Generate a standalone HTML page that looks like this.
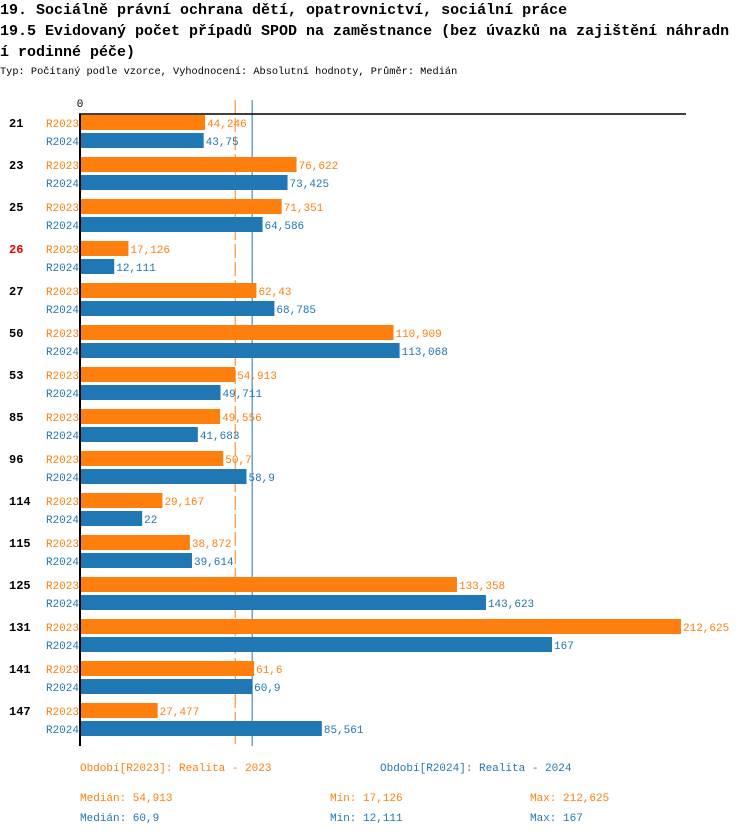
<!DOCTYPE html>
<html><head><meta charset="utf-8"><style>
body{margin:0;background:#fff;width:750px;height:834px;overflow:hidden;font-family:"Liberation Mono","DejaVu Sans Mono",monospace}
.t{position:absolute;white-space:nowrap}
</style></head><body>
<div class="t" style="left:0;top:0;font-size:15px;font-weight:bold;line-height:21px">19. Sociálně právní ochrana dětí, opatrovnictví, sociální práce</div>
<div class="t" style="left:0;top:21px;font-size:15px;font-weight:bold;line-height:21px">19.5 Evidovaný počet případů SPOD na zaměstnance (bez úvazků na zajištění náhradn</div>
<div class="t" style="left:0;top:42px;font-size:15px;font-weight:bold;line-height:21px">í rodinné péče)</div>
<div class="t" style="left:0;top:66px;font-size:10.3px">Typ: Počítaný podle vzorce, Vyhodnocení: Absolutní hodnoty, Průměr: Medián</div>
<svg id="chart" width="750" height="834" style="position:absolute;left:0;top:0" font-family="Liberation Mono, monospace"></svg>
<script>
const categories=["21","23","25","26","27","50","53","85","96","114","115","125","131","141","147"];
const labels2023=["44,246","76,622","71,351","17,126","62,43","110,909","54,913","49,556","50,7","29,167","38,872","133,358","212,625","61,6","27,477"];
const labels2024=["43,75","73,425","64,586","12,111","68,785","113,068","49,711","41,683","58,9","22","39,614","143,623","167","60,9","85,561"];
const values2023=[44.246,76.622,71.351,17.126,62.43,110.909,54.913,49.556,50.7,29.167,38.872,133.358,212.625,61.6,27.477];
const values2024=[43.75,73.425,64.586,12.111,68.785,113.068,49.711,41.683,58.9,22,39.614,143.623,167,60.9,85.561];
const highlighted=["26"];
const median2023=54.913, median2024=60.9;
const O="#ff7f0e",B="#1f77b4";
const svg=document.getElementById('chart');
const NS="http://www.w3.org/2000/svg";
const x=v=>80+v*(601/212.625);
const gy=i=>113+i*42;
function el(tag,a,txt){const e=document.createElementNS(NS,tag);for(const k in a)e.setAttribute(k,a[k]);if(txt!==undefined)e.textContent=txt;svg.appendChild(e);return e;}
let e;
e=el('line',{x1:x(median2023),x2:x(median2023),y1:100,y2:746,stroke:O,'stroke-width':1,'stroke-dasharray':'14,4'});


e=el('line',{x1:x(median2024),x2:x(median2024),y1:100,y2:746,stroke:B,'stroke-width':1});


categories.forEach((c,i)=>{
  const y=gy(i);
  e=el('text',{x:9,y:y+14,'font-size':12,'font-weight':'bold',fill:highlighted.includes(c)?'#e00':'#000'},c);
  
  
  e=el('text',{x:79,y:y+14,'font-size':11,fill:O,'text-anchor':'end'},'R2023');
  
  
  e=el('text',{x:79,y:y+32,'font-size':11,fill:B,'text-anchor':'end'},'R2024');
  
  
  e=el('rect',{x:81,y:y+2,width:x(values2023[i])-81,height:15,fill:O});
  
  
  e=el('rect',{x:81,y:y+20,width:x(values2024[i])-81,height:15,fill:B});
  
  
  e=el('text',{x:x(values2023[i])+2,y:y+14,'font-size':11,fill:O},labels2023[i]);
  
  
  e=el('text',{x:x(values2024[i])+2,y:y+32,'font-size':11,fill:B},labels2024[i]);
  
  
});
e=el('line',{x1:79,x2:686,y1:114,y2:114,stroke:'#000','stroke-width':1.5});


e=el('line',{x1:80,x2:80,y1:114,y2:746,stroke:'#000','stroke-width':2});


e=el('text',{x:80,y:107,'font-size':11,'text-anchor':'middle'},'0');


const foot=[[80,771,O,'Období[R2023]: Realita - 2023','legend-r2023'],[380,771,B,'Období[R2024]: Realita - 2024','legend-r2024'],
[80,801,O,'Medián: 54,913','median-r2023'],[330,801,O,'Min: 17,126','min-r2023'],[530,801,O,'Max: 212,625','max-r2023'],
[80,821,B,'Medián: 60,9','median-r2024'],[330,821,B,'Min: 12,111','min-r2024'],[530,821,B,'Max: 167','max-r2024']];
foot.forEach(f=>{
  e=el('text',{x:f[0],y:f[1],'font-size':11,fill:f[2]},f[3]);
  
  
});
</script>
</body></html>
